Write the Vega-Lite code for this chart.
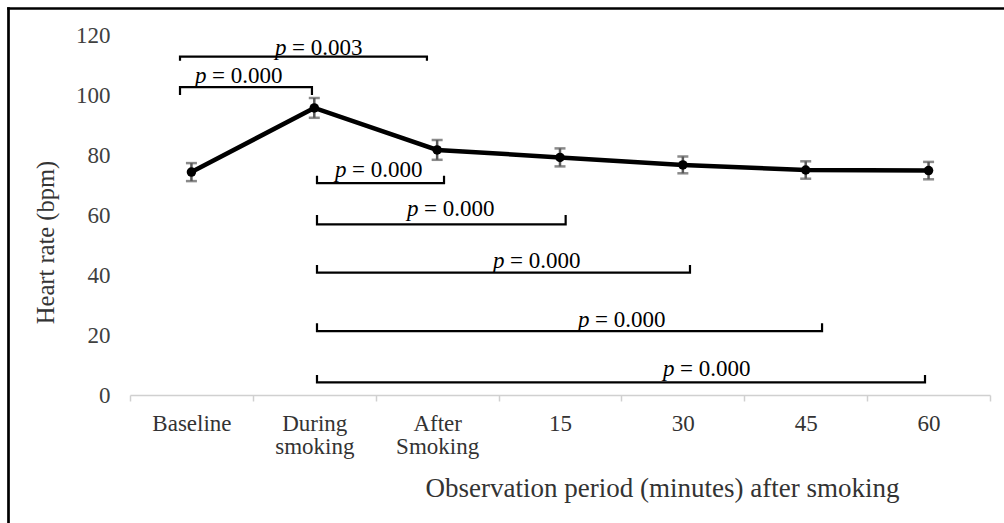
{
  "$schema": "https://vega.github.io/schema/vega-lite/v6.json",
  "width": 996,
  "height": 515,
  "autosize": {"type": "none"},
  "padding": {"left": 8, "top": 8, "right": 0, "bottom": 0},
  "background": "white",
  "config": {
    "view": {"stroke": null},
    "font": "Liberation Serif"
  },
  "datasets": {
    "hr": [
      {"period": "Baseline", "mean": 74.3, "err": 3.0},
      {"period": "During smoking", "mean": 95.7, "err": 3.3},
      {"period": "After Smoking", "mean": 81.7, "err": 3.3},
      {"period": "15", "mean": 79.2, "err": 3.0},
      {"period": "30", "mean": 76.7, "err": 2.8},
      {"period": "45", "mean": 75.0, "err": 2.9},
      {"period": "60", "mean": 74.8, "err": 2.9}
    ],
    "brackets": [
      {"id": "b1", "seq": 1, "x": 0.407, "y": 111.4},
      {"id": "b1", "seq": 2, "x": 0.407, "y": 112.8},
      {"id": "b1", "seq": 3, "x": 2.417, "y": 112.8},
      {"id": "b1", "seq": 4, "x": 2.417, "y": 111.4},
      {"id": "b2", "seq": 1, "x": 0.407, "y": 100.0},
      {"id": "b2", "seq": 2, "x": 0.407, "y": 102.6},
      {"id": "b2", "seq": 3, "x": 1.481, "y": 102.6},
      {"id": "b2", "seq": 4, "x": 1.481, "y": 100.0},
      {"id": "b3", "seq": 1, "x": 1.522, "y": 73.1},
      {"id": "b3", "seq": 2, "x": 1.522, "y": 70.6},
      {"id": "b3", "seq": 3, "x": 2.556, "y": 70.6},
      {"id": "b3", "seq": 4, "x": 2.556, "y": 73.1},
      {"id": "b4", "seq": 1, "x": 1.522, "y": 60.0},
      {"id": "b4", "seq": 2, "x": 1.522, "y": 56.9},
      {"id": "b4", "seq": 3, "x": 3.546, "y": 56.9},
      {"id": "b4", "seq": 4, "x": 3.546, "y": 60.0},
      {"id": "b5", "seq": 1, "x": 1.522, "y": 43.3},
      {"id": "b5", "seq": 2, "x": 1.522, "y": 40.8},
      {"id": "b5", "seq": 3, "x": 4.558, "y": 40.8},
      {"id": "b5", "seq": 4, "x": 4.558, "y": 43.3},
      {"id": "b6", "seq": 1, "x": 1.522, "y": 23.9},
      {"id": "b6", "seq": 2, "x": 1.522, "y": 21.3},
      {"id": "b6", "seq": 3, "x": 5.633, "y": 21.3},
      {"id": "b6", "seq": 4, "x": 5.633, "y": 23.9},
      {"id": "b7", "seq": 1, "x": 1.522, "y": 6.7},
      {"id": "b7", "seq": 2, "x": 1.522, "y": 4.2},
      {"id": "b7", "seq": 3, "x": 6.471, "y": 4.2},
      {"id": "b7", "seq": 4, "x": 6.471, "y": 6.7}
    ],
    "labels": [
      {"lx": 1.180, "ly": 113.3, "val": "= 0.003"},
      {"lx": 0.529, "ly": 104.1, "val": "= 0.000"},
      {"lx": 1.669, "ly": 72.8, "val": "= 0.000"},
      {"lx": 2.255, "ly": 59.7, "val": "= 0.000"},
      {"lx": 2.955, "ly": 42.2, "val": "= 0.000"},
      {"lx": 3.647, "ly": 22.7, "val": "= 0.000"},
      {"lx": 4.338, "ly": 6.4, "val": "= 0.000"}
    ]
  },
  "layer": [
    {
      "data": {"name": "hr"},
      "encoding": {
        "x": {
          "field": "period",
          "type": "nominal",
          "sort": null,
          "scale": {"type": "band", "range": [122, 982], "paddingInner": 0, "paddingOuter": 0},
          "axis": {
            "title": "Observation period (minutes) after smoking",
            "orient": "bottom",
            "offset": -128,
            "grid": false,
            "domainColor": "#d0d0d0",
            "domainWidth": 1.5,
            "tickColor": "#d0d0d0",
            "tickWidth": 1.5,
            "tickSize": 6,
            "tickBand": "extent",
            "labelAngle": 0,
            "labelExpr": "split(datum.label, ' ')",
            "labelLineHeight": 23,
            "labelPadding": 11,
            "labelFont": "Liberation Serif",
            "labelFontSize": 23,
            "labelColor": "#333333",
            "labelBaseline": "top",
            "titleFont": "Liberation Serif",
            "titleFontSize": 27,
            "titleFontWeight": "normal",
            "titleColor": "#333333",
            "titleX": 654,
            "titleY": 101,
            "titleAlign": "center",
            "titleBaseline": "alphabetic"
          }
        },
        "y": {
          "field": "mean",
          "type": "quantitative",
          "title": "Heart rate (bpm)",
          "scale": {"domain": [0, 120], "range": [387, 27], "nice": false, "zero": true},
          "axis": {
            "title": "Heart rate (bpm)",
            "values": [0, 20, 40, 60, 80, 100, 120],
            "offset": -122,
            "grid": false,
            "domain": false,
            "ticks": false,
            "labelPadding": 20,
            "labelFont": "Liberation Serif",
            "labelFontSize": 23,
            "labelColor": "#404040",
            "titleFont": "Liberation Serif",
            "titleFontSize": 24.5,
            "titleFontWeight": "normal",
            "titleColor": "#333333",
            "titleX": -84,
            "titleY": 234,
            "titleAngle": -90,
            "titleAlign": "center",
            "titleBaseline": "middle"
          }
        }
      },
      "layer": [
        {
          "mark": {
            "type": "errorbar",
            "color": "#595959",
            "ticks": {"size": 11, "thickness": 2.5, "color": "#595959"},
            "rule": {"strokeWidth": 2.5, "color": "#595959"}
          },
          "encoding": {"yError": {"field": "err"}}
        },
        {
          "mark": {"type": "line", "color": "black", "strokeWidth": 4.5}
        },
        {
          "mark": {"type": "point", "filled": true, "color": "black", "size": 90, "opacity": 1}
        }
      ]
    },
    {
      "layer": [
        {
          "data": {"name": "brackets"},
          "mark": {"type": "line", "color": "black", "strokeWidth": 2.2, "strokeJoin": "miter", "strokeCap": "butt"},
          "encoding": {
            "x": {"field": "x", "type": "quantitative", "scale": {"domain": [0, 7], "range": [122, 982], "nice": false, "zero": false}, "axis": null},
            "y": {"field": "y", "type": "quantitative", "scale": {"domain": [0, 120], "range": [387, 27], "nice": false, "zero": true}, "axis": null},
            "detail": {"field": "id"},
            "order": {"field": "seq"}
          }
        },
        {
          "data": {"name": "labels"},
          "mark": {"type": "text", "text": "p", "fontStyle": "italic", "fontSize": 23, "align": "left", "baseline": "alphabetic", "color": "black", "font": "Liberation Serif"},
          "encoding": {
            "x": {"field": "lx", "type": "quantitative", "scale": {"domain": [0, 7], "range": [122, 982], "nice": false, "zero": false}, "axis": null},
            "y": {"field": "ly", "type": "quantitative", "scale": {"domain": [0, 120], "range": [387, 27], "nice": false, "zero": true}, "axis": null}
          }
        },
        {
          "data": {"name": "labels"},
          "mark": {"type": "text", "dx": 17, "fontSize": 23, "align": "left", "baseline": "alphabetic", "color": "black", "font": "Liberation Serif"},
          "encoding": {
            "x": {"field": "lx", "type": "quantitative", "scale": {"domain": [0, 7], "range": [122, 982], "nice": false, "zero": false}, "axis": null},
            "y": {"field": "ly", "type": "quantitative", "scale": {"domain": [0, 120], "range": [387, 27], "nice": false, "zero": true}, "axis": null},
            "text": {"field": "val"}
          }
        }
      ]
    },
    {
      "data": {"name": "hr"},
      "mark": {"type": "point", "opacity": 0},
      "encoding": {
        "x": {
          "field": "mean",
          "type": "quantitative",
          "scale": {"domain": [0, 1], "range": [-1.35, 1200], "nice": false, "zero": false},
          "axis": {"orient": "top", "title": null, "labels": false, "ticks": false, "grid": false, "domain": true, "domainColor": "black", "domainWidth": 2.7}
        },
        "y": {
          "field": "mean",
          "type": "quantitative",
          "scale": {"domain": [0, 1], "range": [-1.35, 1200], "nice": false, "zero": false},
          "axis": {"orient": "left", "title": null, "labels": false, "ticks": false, "grid": false, "domain": true, "domainColor": "black", "domainWidth": 2.7}
        }
      }
    }
  ],
  "resolve": {"scale": {"x": "independent", "y": "independent"}, "axis": {"x": "independent", "y": "independent"}}
}
